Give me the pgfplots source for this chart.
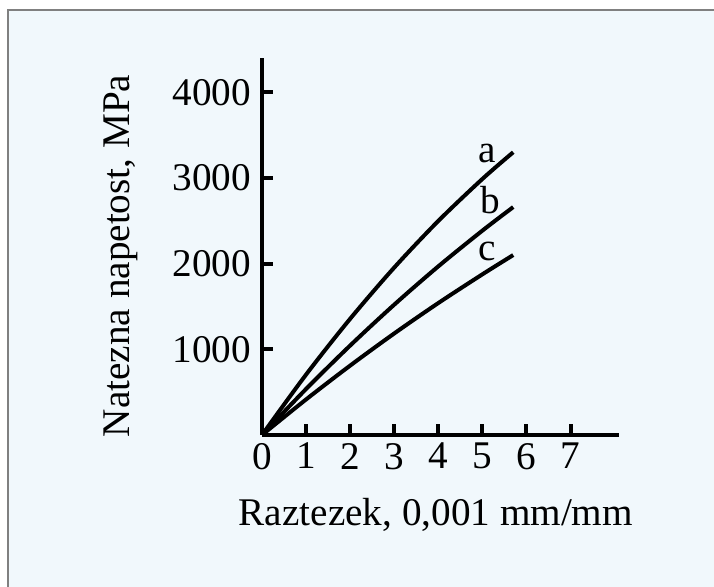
\documentclass[border=0pt]{standalone}
\usepackage{pgfplots}
\pgfplotsset{compat=1.18}
\usepackage{fontspec}
\setmainfont{Liberation Serif}

\definecolor{bgblue}{HTML}{F1F8FC}
\definecolor{framegray}{HTML}{808080}

\begin{document}
\begin{tikzpicture}
% page: 714 x 587 px at 0.5pt per px, top-left at (0,0)
\useasboundingbox (0,0) rectangle (357pt,-293.5pt);
\fill[white] (0,0) rectangle (357pt,-293.5pt);
\fill[bgblue] (4pt,-5pt) rectangle (357pt,-293.5pt);
\draw[framegray, line width=1pt] (4pt,-293.5pt) -- (4pt,-5pt) -- (357pt,-5pt);

\begin{axis}[
	at={(131pt,-217.5pt)}, anchor=south west,
	scale only axis,
	width=178.5pt, height=188.5pt,
	xmin=0, xmax=8.1,
	ymin=0, ymax=4400,
	axis lines=left,
	axis line style={-, line width=2pt},
	xtick={0,1,...,7},
	ytick={1000,2000,3000,4000},
	tick align=inside,
	major tick length=5.5pt,
	every tick/.style={black, line width=2pt},
	font=\fontsize{19.6}{23}\selectfont,
	/pgf/number format/assume math mode=true,
	/pgf/number format/1000 sep={},
	xlabel={Raztezek, 0,001 mm/mm},
	ylabel={Natezna napetost, MPa},
	xlabel style={at={(axis description cs:0.487,-0.212)}, anchor=center},
	ylabel style={at={(axis description cs:-0.395,0.475)}, anchor=center},
	yticklabel style={xshift=-2pt},
	xticklabel style={yshift=-0.5pt},
	clip=false,
	]
\addplot[black, line width=2pt, smooth] coordinates {
	(0,0) (1,705) (2,1356) (3,1954) (4,2498) (5,2988) (5.7,3300)};
\addplot[black, line width=2pt, smooth] coordinates {
	(0,0) (1,537) (2,1044) (3,1521) (4,1968) (5,2385) (5.7,2660)};
\addplot[black, line width=2pt, smooth] coordinates {
	(0,0) (1,415) (2,810) (3,1185) (4,1540) (5,1875) (5.7,2100)};
\node at (axis cs:5.12,3290) {a};
\node at (axis cs:5.19,2740) {b};
\node at (axis cs:5.12,2146) {c};
\end{axis}
\end{tikzpicture}
\end{document}
